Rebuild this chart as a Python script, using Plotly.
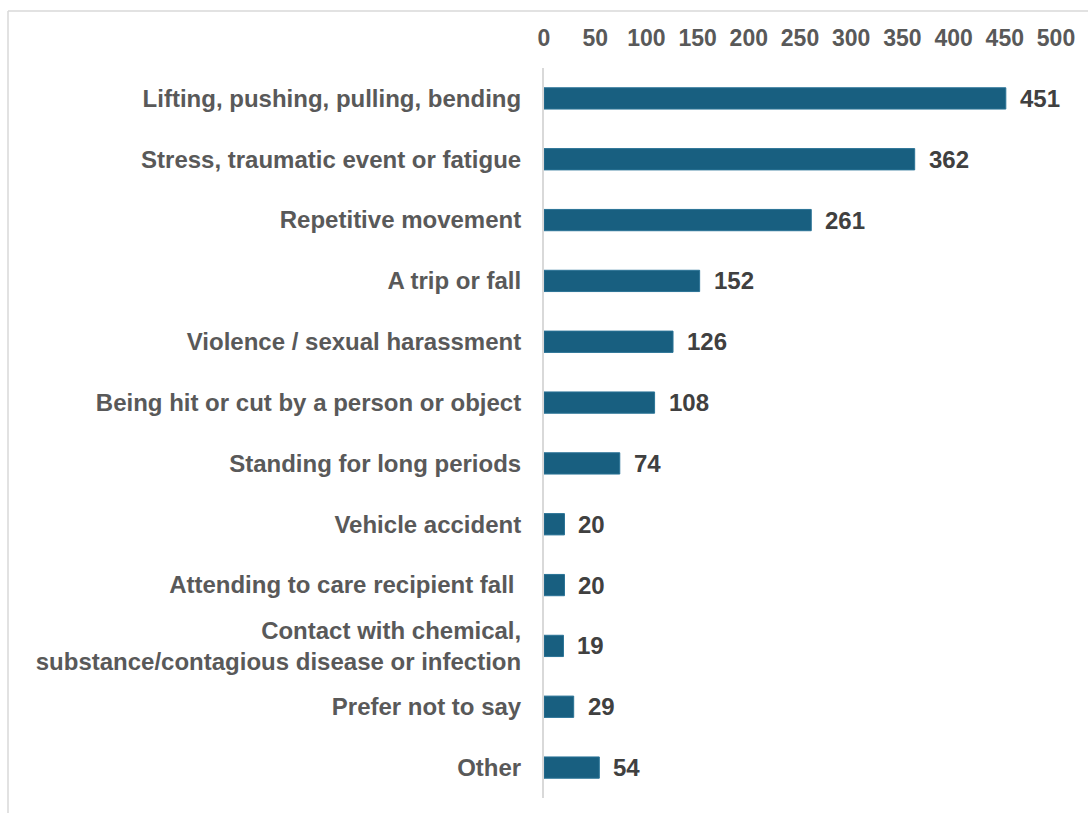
import plotly.graph_objects as go

# Categories listed top to bottom
categories = [
    "Lifting, pushing, pulling, bending",
    "Stress, traumatic event or fatigue",
    "Repetitive movement",
    "A trip or fall",
    "Violence / sexual harassment",
    "Being hit or cut by a person or object",
    "Standing for long periods",
    "Vehicle accident",
    "Attending to care recipient fall\u00a0",
    "Contact with chemical,<br>substance/contagious disease or infection",
    "Prefer not to say",
    "Other",
]
counts = [451, 362, 261, 152, 126, 108, 74, 20, 20, 19, 29, 54]
tick_values = [0, 50, 100, 150, 200, 250, 300, 350, 400, 450, 500]

W, H = 1088, 813
ML, MR, MT, MB = 544, 32, 68, 15
FONT = "Liberation Sans, Arial, sans-serif"

fig = go.Figure(
    go.Bar(
        x=counts,
        y=categories,
        orientation="h",
        marker=dict(color="#185f80", line=dict(color="#2a7396", width=1)),
        hoverinfo="x+y",
    )
)

# value labels to the right of each bar
for cat, val in zip(categories, counts):
    fig.add_annotation(
        x=val, y=cat, text=str(val), showarrow=False,
        xanchor="left", yanchor="middle", xshift=12,
        font=dict(family=FONT, size=24, color="#404040", weight="bold"),
    )

# outer frame of the chart area, in paper units
pw, ph = W - ML - MR, H - MT - MB
def px_x(p):
    return (p - ML) / pw
def px_y(p):
    return 1 - (p - MT) / ph

fig.add_shape(type="line", xref="paper", yref="paper",
              x0=px_x(8), x1=px_x(W + 5), y0=px_y(11), y1=px_y(11),
              line=dict(color="#d9d9d9", width=1.5))
fig.add_shape(type="line", xref="paper", yref="paper",
              x0=px_x(8), x1=px_x(8), y0=px_y(11), y1=px_y(H + 5),
              line=dict(color="#d9d9d9", width=1.5))

fig.update_layout(
    width=W, height=H,
    margin=dict(l=ML, r=MR, t=MT, b=MB),
    paper_bgcolor="white", plot_bgcolor="white",
    showlegend=False,
    bargap=0.65,
    font=dict(family=FONT, color="#595959"),
    xaxis=dict(
        side="top", range=[0, 500], tickvals=tick_values,
        showgrid=False, zeroline=False, showline=False, ticks="",
        tickfont=dict(family=FONT, size=23, color="#595959", weight="bold"),
        ticklabelstandoff=16,
    ),
    yaxis=dict(
        autorange="reversed", showgrid=False, zeroline=False,
        showline=True, linecolor="#d9d9d9", linewidth=2, ticks="",
        tickfont=dict(family=FONT, size=24, color="#595959", weight="bold"),
        ticklabelstandoff=16,
    ),
)

fig.write_html("out.html")
